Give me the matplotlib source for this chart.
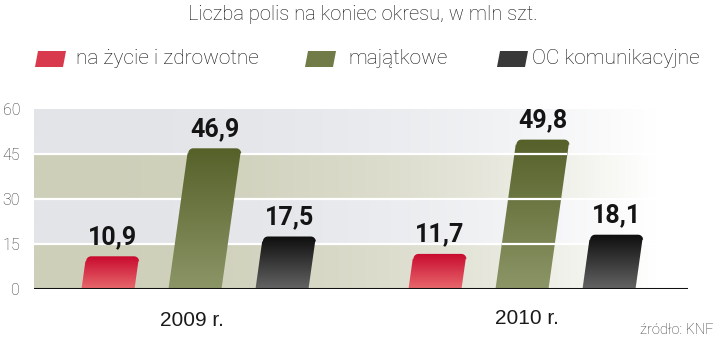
import matplotlib.pyplot as plt
import numpy as np
from matplotlib.patches import Polygon
from matplotlib.colors import LinearSegmentedColormap, to_rgb

# dane
lata = ["2009 r.", "2010 r."]
serie = ["na życie i zdrowotne", "majątkowe", "OC komunikacyjne"]
zycie = [10.9, 11.7]
majatkowe = [46.9, 49.8]
oc = [17.5, 18.1]
yticks = [0, 15, 30, 45, 60]

wartosci = [zycie, majatkowe, oc]
# kolory: (dol, gora) gradientu slupka
kolory = [("#e8686c", "#c80a2e"), ("#8c9566", "#56612a"), ("#636363", "#0e0e0e")]

NARROW = ["Roboto", "DejaVu Sans"]
REG = ["Liberation Sans", "DejaVu Sans"]

W, H = 720, 342
fig = plt.figure(figsize=(W / 100, H / 100), dpi=100)
ax_l, ax_r, ax_b, ax_t = 34, 688, 289, 109
ax = fig.add_axes([ax_l / W, 1 - ax_b / H, (ax_r - ax_l) / W, (ax_b - ax_t) / H])

# skala: srodki grup 0 i 1 -> piksele 195 i 522
PX = 327.0          # px na jednostke x
PY = (ax_b - ax_t) / 60.0   # px na jednostke y
x0 = (ax_l - 195) / PX
x1 = (ax_r - 195) / PX
odstep = 87 / PX
szer = 53 / PX
skos = 0.14        # przesuniecie poziome px na px wysokosci

# tlo - pasy z gradientem do bialego w prawo
pasy = ["#cecfb9", "#e2e4e8", "#cecfb9", "#e2e4e8"]
t = np.linspace(0, 1, 300)
for i, c in enumerate(pasy):
    c = np.array(to_rgb(c))
    f = np.clip(t / 0.95, 0, 1) ** 2.2
    img = (c[None, :] * (1 - f[:, None]) + np.ones(3)[None, :] * f[:, None])[None, :, :]
    ax.imshow(img, extent=[x0, x1, yticks[i], yticks[i + 1]], aspect="auto",
              origin="lower", zorder=1, interpolation="bilinear")

for y in yticks[1:4]:
    ax.axhline(y, color="white", lw=1.6, zorder=2)


def slupek(xc, h, kol, r=5):
    hp = h * PY
    s = skos * hp
    w2 = szer * PX / 2
    pts = [(-w2, 0), (w2, 0), (w2 + skos * (hp - r), hp - r)]
    for a in np.linspace(0, np.pi / 2, 8):
        pts.append((w2 + s - r + r * np.cos(a), hp - r + r * np.sin(a)))
    for a in np.linspace(np.pi / 2, np.pi, 8):
        pts.append((-w2 + s + r + r * np.cos(a), hp - r + r * np.sin(a)))
    pts.append((-w2 + skos * (hp - r), hp - r))
    pts = [(xc + px / PX, py / PY) for px, py in pts]
    poly = Polygon(pts, closed=True, facecolor="none", edgecolor="none",
                   transform=ax.transData)
    ax.add_patch(poly)
    cmap = LinearSegmentedColormap.from_list("g", [kol[0], kol[1]])
    grad = np.linspace(0, 1, 100)[:, None]
    im = ax.imshow(grad, extent=[xc - szer, xc + szer + s / PX, 0, h], aspect="auto",
                   origin="lower", cmap=cmap, zorder=3, interpolation="bilinear")
    im.set_clip_path(poly)
    return s


for gi in range(len(lata)):
    for si in range(len(serie)):
        h = wartosci[si][gi]
        xc = gi + (si - 1) * odstep
        s = slupek(xc, h, kolory[si])
        ax.text(xc + s / PX, h + 2.4, f"{h:.1f}".replace(".", ","), ha="center",
                va="bottom", fontsize=18, fontweight="bold", family=NARROW,
                color="#141414", zorder=6)
        # w 2010 linie siatki przechodza przez slupek majatkowy
        if gi == 1 and si == 1:
            for y in yticks[1:4]:
                if y < h:
                    d = skos * y * PY / PX
                    ax.hlines(y, xc - szer / 2 + d, xc + szer / 2 + d, color="white",
                              lw=1.6, zorder=4)

ax.axhline(0, color="#111111", lw=2.2, zorder=5)

ax.set_xlim(x0, x1)
ax.set_ylim(0, 60)
ax.set_yticks(yticks)
ax.set_yticklabels([str(v) for v in yticks], family=NARROW, fontweight="light",
                   fontsize=11.5, color="#333333")
ax.tick_params(axis="y", length=0, pad=10)
ax.set_xticks([])
for sp in ax.spines.values():
    sp.set_visible(False)

# podpisy lat
fig.text(192 / W, 1 - 320 / H, lata[0], ha="center", va="center", fontsize=15,
         family=REG, color="#1a1a1a")
fig.text(527 / W, 1 - 318 / H, lata[1], ha="center", va="center", fontsize=15,
         family=REG, color="#1a1a1a")

# tytul i zrodlo
fig.text(363 / W, 1 - 14 / H, "Liczba polis na koniec okresu, w mln szt.", ha="center",
         va="center", fontsize=14.5, fontweight="light", family=NARROW, color="#111111")
fig.text(714 / W, 1 - 330 / H, "źródło: KNF", ha="right", va="center", fontsize=10.5,
         fontweight="light", family=NARROW, color="#333333")

# legenda
leg_x = [35, 305, 497]
leg_tx = [76, 348, 532]
for i, nazwa in enumerate(serie):
    xl = leg_x[i]
    pts = [(xl, 67), (xl + 28, 67), (xl + 31, 51), (xl + 3, 51)]
    pts = [(px / W, 1 - py / H) for px, py in pts]
    kol = np.mean([to_rgb(kolory[i][0]), to_rgb(kolory[i][1])], axis=0)
    fig.add_artist(Polygon(pts, closed=True, facecolor=kol, edgecolor="none",
                           transform=fig.transFigure, joinstyle="round"))
    fig.text(leg_tx[i] / W, 1 - 58 / H, nazwa, ha="left", va="center", fontsize=15,
             fontweight="light", family=NARROW, color="#111111")

fig.savefig("out.png", dpi=100)
